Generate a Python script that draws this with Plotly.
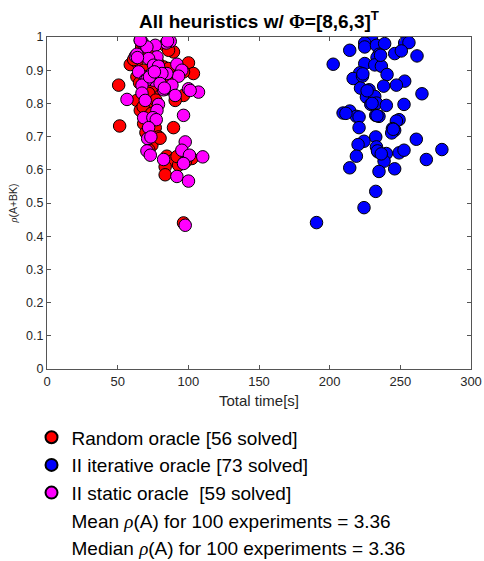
import plotly.graph_objects as go

# Random oracle
red_x = [66.0, 83.6, 89.5, 70.7, 58.9, 63.6, 100.1, 103.6, 50.7, 63.6, 66.0, 68.4, 51.4, 76.6,
         89.5, 78.9, 74.2, 84.8, 89.5, 93.1, 83.6, 83.6, 102.5, 96.6, 63.6, 73.1, 75.4, 70.7,
         76.6, 82.5, 89.5, 96.6, 90.7, 74.2, 81.3, 68.4, 61.3, 96.6,
         67.0, 72.0, 78.0, 86.0, 69.0, 80.0, 87.0, 65.5, 72.0, 77.0, 68.0, 74.0, 70.0, 80.0,
         72.0, 92.0, 98.0, 86.0]
red_y = [0.990, 0.975, 0.955, 0.955, 0.917, 0.925, 0.922, 0.890, 0.855, 0.809, 0.779, 0.739,
         0.732, 0.727, 0.727, 0.699, 0.674, 0.641, 0.629, 0.614, 0.609, 0.585, 0.634, 0.440,
         0.880, 0.860, 0.824, 0.799, 0.860, 0.910, 0.895, 0.824, 0.809, 0.849, 0.870, 0.900,
         0.932, 0.895,
         0.970, 0.945, 0.925, 0.905, 0.880, 0.880, 0.865, 0.862, 0.830, 0.810, 0.790, 0.770,
         0.712, 0.695, 0.660, 0.640, 0.625, 0.960]

# II iterative oracle
blue_x = [229.5, 224.8, 224.8, 233.1, 238.9, 253.1, 256.1, 214.2, 246.0, 250.7, 261.8, 234.9,
          233.5, 202.5, 224.8, 231.9, 236.6, 240.6, 221.3, 216.6, 223.2, 253.1, 247.2, 238.2,
          221.8, 227.9, 265.3, 226.0, 231.9, 229.1, 233.1, 240.1, 252.6, 209.5, 214.2, 218.9,
          220.8, 232.6, 234.9, 220.8, 249.1, 247.2, 244.4, 246.0, 243.9, 232.6, 261.3, 224.3,
          220.1, 233.1, 234.2, 240.1, 249.1, 252.6, 279.4, 218.9, 238.5, 268.4, 214.2, 234.9,
          246.0, 232.6, 224.3, 190.7,
          211.5, 223.5, 233.5, 245.0, 233.8, 236.0, 230.0, 226.5, 236.5]
blue_y = [0.998, 0.982, 0.970, 0.975, 0.980, 0.982, 0.983, 0.960, 0.950, 0.958, 0.943, 0.948,
          0.938, 0.918, 0.920, 0.916, 0.912, 0.887, 0.892, 0.875, 0.882, 0.867, 0.855, 0.852,
          0.846, 0.841, 0.829, 0.819, 0.821, 0.797, 0.801, 0.794, 0.797, 0.771, 0.777, 0.761,
          0.759, 0.764, 0.761, 0.727, 0.751, 0.747, 0.724, 0.719, 0.711, 0.699, 0.692, 0.686,
          0.676, 0.669, 0.654, 0.649, 0.651, 0.659, 0.661, 0.641, 0.626, 0.631, 0.606, 0.595,
          0.603, 0.535, 0.486, 0.441,
          0.770, 0.889, 0.763, 0.722, 0.657, 0.945, 0.800, 0.838, 0.648]

# II static oracle
mag_x = [67.2, 87.2, 84.4, 76.6, 70.7, 62.5, 63.6, 77.8, 71.9, 64.8, 75.4, 78.9, 91.9, 95.4,
         93.1, 84.8, 81.3, 74.2, 69.5, 75.4, 70.7, 67.2, 85.3, 82.5, 88.4, 90.7, 100.1, 107.2,
         101.3, 67.2, 69.5, 56.6, 78.9, 77.8, 68.4, 74.9, 77.3, 71.9, 96.6, 97.8, 71.2, 73.5,
         70.7, 73.1, 82.5, 95.4, 100.8, 96.6, 110.2, 91.9, 100.1, 97.8,
         66.0, 85.3, 72.5, 80.0, 64.0, 76.0, 83.0]
mag_y = [0.985, 0.987, 0.982, 0.975, 0.970, 0.942, 0.948, 0.940, 0.935, 0.895, 0.915, 0.912,
         0.918, 0.900, 0.882, 0.890, 0.890, 0.890, 0.870, 0.870, 0.872, 0.855, 0.844, 0.841,
         0.855, 0.824, 0.844, 0.834, 0.839, 0.831, 0.809, 0.812, 0.797, 0.779, 0.757, 0.757,
         0.751, 0.727, 0.764, 0.684, 0.694, 0.699, 0.657, 0.644, 0.631, 0.659, 0.644, 0.619,
         0.639, 0.580, 0.566, 0.433,
         0.990, 0.988, 0.880, 0.860, 0.938, 0.895, 0.846]

x_ticks = [0, 50, 100, 150, 200, 250, 300]
y_ticks = [0, 0.1, 0.2, 0.3, 0.4, 0.5, 0.6, 0.7, 0.8, 0.9, 1]
y_tick_labels = ["0", "0.1", "0.2", "0.3", "0.4", "0.5", "0.6", "0.7", "0.8", "0.9", "1"]

series_names = ["Random oracle [56 solved]", "II iterative oracle [73 solved]",
                "II static oracle  [59 solved]"]
extra_lines = ["Mean <span style='font-family:Liberation Serif'><i>ρ</i></span>(A) for 100 experiments = 3.36",
               "Median <span style='font-family:Liberation Serif'><i>ρ</i></span>(A) for 100 experiments = 3.36"]

fig = go.Figure()
for xs, ys, col, name in [(red_x, red_y, "#ff0000", series_names[0]),
                          (blue_x, blue_y, "#0000ff", series_names[1]),
                          (mag_x, mag_y, "#ff00ff", series_names[2])]:
    fig.add_trace(go.Scatter(x=xs, y=ys, mode="markers", name=name, legendgroup=name,
                             marker=dict(size=12.5, color=col, line=dict(color="black", width=1))))
for t in extra_lines:
    fig.add_trace(go.Scatter(x=[None], y=[None], mode="markers", name=t, legendgroup=t,
                             marker=dict(size=12, color="rgba(0,0,0,0)", line=dict(width=0))))

axis_col = "#555555"
fig.update_layout(
    width=484, height=561,
    margin=dict(l=46.5, r=13, t=37, b=192.3, autoexpand=False),
    plot_bgcolor="white", paper_bgcolor="white",
    font=dict(family="Liberation Sans, Arial, sans-serif", color="#262626"),
    title=dict(text="<b>All heuristics w/ <span style='font-family:Liberation Serif'>Φ</span>=[8,6,3]<sup>T</sup></b>",
               x=259 / 484, xanchor="center", y=1 - 21 / 561, yanchor="middle",
               font=dict(size=19, color="black")),
    xaxis=dict(range=[0, 300], tickvals=x_ticks, ticks="inside", ticklen=4, tickcolor=axis_col,
               showline=True, linecolor=axis_col, linewidth=1, mirror="ticks", showgrid=False,
               zeroline=False, tickfont=dict(size=13),
               title=dict(text="Total time[s]", font=dict(size=15), standoff=7)),
    yaxis=dict(range=[0, 1], tickvals=y_ticks, ticktext=y_tick_labels, ticks="inside", ticklen=4,
               tickcolor=axis_col, showline=True, linecolor=axis_col, linewidth=1, mirror="ticks",
               showgrid=False, zeroline=False, tickfont=dict(size=12.5),
               title=dict(text="<span style='font-family:Liberation Serif'><i>ρ</i></span>(A+BK)",
                          font=dict(size=10.5), standoff=6)),
    showlegend=True,
    legend=dict(x=(31 - 46.5) / 424.5, xanchor="left", y=(368.7 - 418) / 331.7, yanchor="top",
                bgcolor="rgba(0,0,0,0)",
                font=dict(size=19, color="black"), tracegroupgap=0, itemsizing="constant"),
)

fig.write_html("out.html")
